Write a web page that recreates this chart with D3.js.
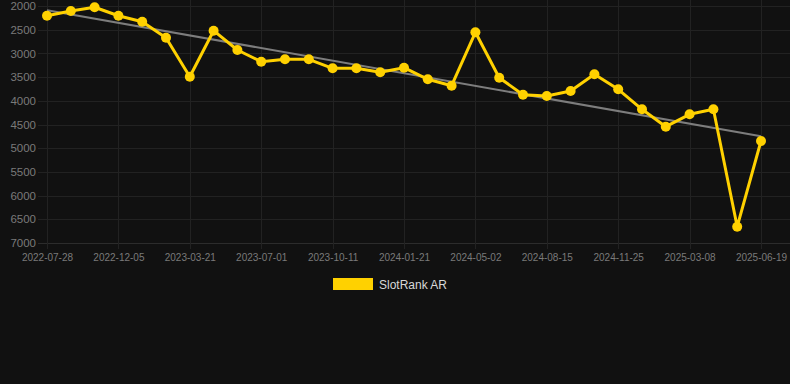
<!DOCTYPE html>
<html>
<head>
<meta charset="utf-8">
<script src="https://cdn.jsdelivr.net/npm/d3@7"></script>
<style>
  html, body { margin: 0; padding: 0; background: #111111; }
  svg { display: block; font-family: "Liberation Sans", Arial, sans-serif; }
</style>
</head>
<body>
<svg id="chart" width="790" height="384"></svg>
<script>
const dates = [
  "2022-07-28","2022-09-10","2022-10-23","2022-12-05","2023-01-10","2023-02-14",
  "2023-03-21","2023-04-24","2023-05-28","2023-07-01","2023-08-04","2023-09-07",
  "2023-10-11","2023-11-14","2023-12-18","2024-01-21","2024-02-24","2024-03-29",
  "2024-05-02","2024-06-06","2024-07-11","2024-08-15","2024-09-18","2024-10-22",
  "2024-11-25","2024-12-29","2025-02-02","2025-03-08","2025-04-11","2025-05-15",
  "2025-06-19"
];
const ranks = [
  2205, 2105, 2027, 2205, 2331, 2669, 3492, 2521, 2928, 3175, 3124, 3124,
  3314, 3314, 3399, 3302, 3546, 3681, 2555, 3513, 3871, 3899, 3793, 3441,
  3757, 4179, 4546, 4285, 4179, 6656, 4848
];
const yTicks = [2000, 2500, 3000, 3500, 4000, 4500, 5000, 5500, 6000, 6500, 7000];
const seriesName = "SlotRank AR";

const svg = d3.select("#chart");
const W = 790;
const x = d3.scalePoint().domain(dates).range([47, 761]);
const y = d3.scaleLinear().domain([2000, 7000]).range([6, 243]);

const gridColor = "#222222";
const labelColor = "#7a7a7a";

// horizontal grid + y axis labels
const yAxis = d3.axisLeft(y).tickValues(yTicks).tickFormat(d3.format("d")).tickSize(0).tickPadding(0);
const gy = svg.append("g").attr("transform", "translate(36,0)").call(yAxis);
gy.select(".domain").remove();
gy.selectAll("text").attr("fill", labelColor).style("font-size", "11.5px")
  .style("font-family", "'Liberation Sans', Arial, sans-serif");
svg.append("g").selectAll("line").data(yTicks).join("line")
  .attr("x1", 38).attr("x2", W)
  .attr("y1", d => Math.round(y(d)) + 0.5).attr("y2", d => Math.round(y(d)) + 0.5)
  .attr("stroke", d => d === 7000 ? "#2c2c2c" : gridColor).attr("stroke-width", 1);

// vertical grid + x axis labels (every third category)
const shown = dates.filter((d, i) => i % 3 === 0);
svg.append("g").selectAll("line").data(shown).join("line")
  .attr("x1", d => Math.round(x(d)) + 0.5).attr("x2", d => Math.round(x(d)) + 0.5)
  .attr("y1", 0).attr("y2", 249)
  .attr("stroke", gridColor).attr("stroke-width", 1);
const xAxis = d3.axisBottom(x).tickValues(shown).tickSize(0).tickPadding(0);
const gx = svg.append("g").attr("transform", "translate(0,254)").call(xAxis);
gx.select(".domain").remove();
gx.selectAll("text").attr("fill", labelColor).style("font-size", "10px")
  .style("font-family", "'Liberation Sans', Arial, sans-serif");

// trend line (least squares)
const n = ranks.length;
const mi = d3.mean(ranks, (d, i) => i);
const mv = d3.mean(ranks);
const slope = d3.sum(ranks, (d, i) => (i - mi) * (d - mv)) / d3.sum(ranks, (d, i) => (i - mi) * (i - mi));
const icpt = mv - slope * mi;
svg.append("line")
  .attr("x1", x(dates[0])).attr("y1", y(icpt))
  .attr("x2", x(dates[n - 1])).attr("y2", y(icpt + slope * (n - 1)))
  .attr("stroke", "#7d7d7d").attr("stroke-width", 2);

// series line
const yellow = "#ffd100";
svg.append("path")
  .datum(ranks)
  .attr("fill", "none").attr("stroke", yellow).attr("stroke-width", 3)
  .attr("stroke-linejoin", "round")
  .attr("d", d3.line().x((d, i) => x(dates[i])).y(d => y(d)));
svg.append("g").selectAll("circle").data(ranks).join("circle")
  .attr("cx", (d, i) => x(dates[i])).attr("cy", d => y(d)).attr("r", 5)
  .attr("fill", yellow);

// legend
svg.append("rect").attr("x", 333).attr("y", 278).attr("width", 40).attr("height", 12).attr("fill", yellow);
svg.append("text").attr("x", 379).attr("y", 288.5).text(seriesName)
  .attr("fill", "#d8d8d8").style("font-size", "12px");
</script>
</body>
</html>
